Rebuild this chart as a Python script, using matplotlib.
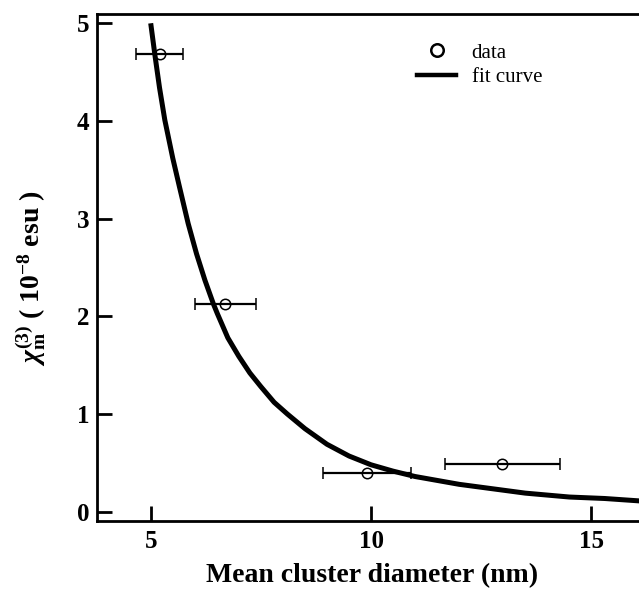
import numpy as np
import matplotlib
matplotlib.use("Agg")
import matplotlib.pyplot as plt
from matplotlib.lines import Line2D

# data
# -------------------------------------------------------------------------------------
diam = [5.2, 6.69, 9.9, 12.98]          # mean cluster diameter (nm)
chi = [4.69, 2.13, 0.40, 0.49]          # chi_m^(3) (1e-8 esu)
diam_err = [0.53, 0.69, 1.0, 1.3]

fit_x = [5.0, 5.1, 5.2, 5.32, 5.5, 5.65, 5.85, 6.04, 6.23, 6.42, 6.51, 6.75,
         7.0, 7.25, 7.5, 7.8, 8.1, 8.5, 9.0, 9.5, 10.0, 10.5, 11.0, 11.5,
         12.0, 12.75, 13.5, 14.5, 15.3, 16.1]
fit_y = [5.0, 4.66, 4.34, 4.01, 3.62, 3.33, 2.95, 2.64, 2.37, 2.13, 2.03, 1.78,
         1.59, 1.42, 1.28, 1.12, 1.0, 0.85, 0.69, 0.57, 0.48, 0.415, 0.36, 0.32,
         0.28, 0.235, 0.19, 0.15, 0.135, 0.11]

xticks = [5, 10, 15]
yticks = [0, 1, 2, 3, 4, 5]

# style
# -------------------------------------------------------------------------------------
plt.rcParams['font.family'] = ['Liberation Serif', 'DejaVu Serif']
plt.rcParams['mathtext.fontset'] = 'custom'
plt.rcParams['mathtext.rm'] = 'Liberation Serif:bold'
plt.rcParams['mathtext.it'] = 'Liberation Serif:italic:bold'
plt.rcParams['mathtext.bf'] = 'Liberation Serif:bold'

fig = plt.figure(figsize=(6.39, 5.91), dpi=100)
ax = fig.add_axes([0.1513, 0.119, 0.8487, 0.8573])

ax.plot(fit_x, fit_y, color='black', lw=3.6, solid_capstyle='butt',
        solid_joinstyle='round', zorder=3)
ax.errorbar(diam, chi, xerr=diam_err, fmt='o', mfc='none', mec='black', mew=1.1,
            ms=7.5, ecolor='black', elinewidth=1.6, capsize=4, capthick=1.8,
            zorder=4)

ax.set_xlim(3.774, 16.08)
ax.set_ylim(-0.092, 5.095)
ax.set_xticks(xticks)
ax.set_yticks(yticks)
ax.tick_params(direction='in', length=11, width=2, labelsize=18, pad=7)
ax.tick_params(axis='y', pad=5.5)
for lab in ax.get_xticklabels() + ax.get_yticklabels():
    lab.set_fontweight('bold')

ax.spines['right'].set_visible(False)
for s in ['left', 'top', 'bottom']:
    ax.spines[s].set_linewidth(2)

ax.set_xlabel('Mean cluster diameter (nm)', fontsize=20, fontweight='bold')
ax.xaxis.set_label_coords(0.508, -0.083)
ax.set_ylabel(r'$\chi_{\rm m}^{(3)}$ ( 10$^{-8}$ esu )', fontsize=20, fontweight='bold')
ax.yaxis.set_label_coords(-0.09, 0.479)

handles = [Line2D([], [], ls='none', marker='o', mfc='none', mec='black', mew=1.8, ms=9),
           Line2D([], [], color='black', lw=3.2)]
ax.legend(handles, ['data', 'fit curve'], loc='upper left', bbox_to_anchor=(0.576, 0.959),
          frameon=False, fontsize=15, handlelength=1.85, handletextpad=0.75,
          labelspacing=0.25, borderaxespad=0)

fig.savefig('out.png', dpi=100)
